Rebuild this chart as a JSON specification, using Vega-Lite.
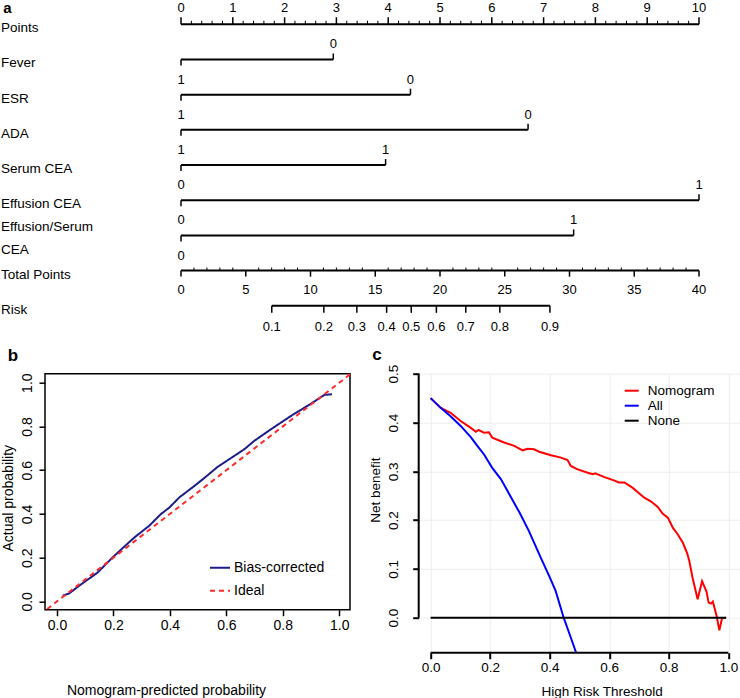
{
  "$schema": "https://vega.github.io/schema/vega-lite/v6.json",
  "background": "white",
  "padding": 0,
  "spacing": 32.7,
  "bounds": "flush",
  "resolve": {"scale": {"color": "independent", "strokeDash": "independent"}, "legend": {"color": "independent", "strokeDash": "independent"}},
  "config": {
    "font": "Liberation Sans",
    "view": {"stroke": null},
    "axis": {"labelColor": "black", "titleColor": "black", "tickColor": "black", "titleFontWeight": "normal", "labelFont": "Liberation Sans", "titleFont": "Liberation Sans"},
    "legend": {"labelColor": "black", "labelFont": "Liberation Sans"},
    "title": {"color": "black", "font": "Liberation Sans"}
  },
  "datasets": {
    "varlines": [
      {"var": "Points", "row": 0, "x0": 0, "x1": 10},
      {"var": "Fever", "row": 1, "x0": 0, "x1": 2.94},
      {"var": "ESR", "row": 2, "x0": 0, "x1": 4.43},
      {"var": "ADA", "row": 3, "x0": 0, "x1": 6.70},
      {"var": "Serum CEA", "row": 4, "x0": 0, "x1": 3.95},
      {"var": "Effusion CEA", "row": 5, "x0": 0, "x1": 10},
      {"var": "Effusion/Serum CEA", "row": 6, "x0": 0, "x1": 7.58}
    ],
    "levels": [
      {"row": 1, "x": 2.94, "lab": "0"},
      {"row": 2, "x": 0, "lab": "1"},
      {"row": 2, "x": 4.43, "lab": "0"},
      {"row": 3, "x": 0, "lab": "1"},
      {"row": 3, "x": 6.70, "lab": "0"},
      {"row": 4, "x": 0, "lab": "1"},
      {"row": 4, "x": 3.95, "lab": "1"},
      {"row": 5, "x": 0, "lab": "0"},
      {"row": 5, "x": 10, "lab": "1"},
      {"row": 6, "x": 0, "lab": "0"},
      {"row": 6, "x": 7.58, "lab": "1"}
    ],
    "names": [
      {"name": "Points", "row": 0},
      {"name": "Fever", "row": 1},
      {"name": "ESR", "row": 2},
      {"name": "ADA", "row": 3},
      {"name": "Serum CEA", "row": 4},
      {"name": "Effusion CEA", "row": 5},
      {"name": "Total Points", "row": 7},
      {"name": "Risk", "row": 8}
    ],
    "names2": [
      {"name": "Effusion/Serum\nCEA", "row": 6}
    ],
    "ptsMajor": [{"v": 0}, {"v": 1}, {"v": 2}, {"v": 3}, {"v": 4}, {"v": 5}, {"v": 6}, {"v": 7}, {"v": 8}, {"v": 9}, {"v": 10}],
    "ptsMinor": [
      {"v": 0.2}, {"v": 0.4}, {"v": 0.6}, {"v": 0.8}, {"v": 1.2}, {"v": 1.4}, {"v": 1.6}, {"v": 1.8},
      {"v": 2.2}, {"v": 2.4}, {"v": 2.6}, {"v": 2.8}, {"v": 3.2}, {"v": 3.4}, {"v": 3.6}, {"v": 3.8},
      {"v": 4.2}, {"v": 4.4}, {"v": 4.6}, {"v": 4.8}, {"v": 5.2}, {"v": 5.4}, {"v": 5.6}, {"v": 5.8},
      {"v": 6.2}, {"v": 6.4}, {"v": 6.6}, {"v": 6.8}, {"v": 7.2}, {"v": 7.4}, {"v": 7.6}, {"v": 7.8},
      {"v": 8.2}, {"v": 8.4}, {"v": 8.6}, {"v": 8.8}, {"v": 9.2}, {"v": 9.4}, {"v": 9.6}, {"v": 9.8}
    ],
    "tpLines": [
      {"row": 7, "x0": 0, "x1": 40},
      {"row": 8, "x0": 7.01, "x1": 28.49}
    ],
    "tpMajor": [{"v": 0}, {"v": 5}, {"v": 10}, {"v": 15}, {"v": 20}, {"v": 25}, {"v": 30}, {"v": 35}, {"v": 40}],
    "tpMinor": [
      {"v": 1}, {"v": 2}, {"v": 3}, {"v": 4}, {"v": 6}, {"v": 7}, {"v": 8}, {"v": 9},
      {"v": 11}, {"v": 12}, {"v": 13}, {"v": 14}, {"v": 16}, {"v": 17}, {"v": 18}, {"v": 19},
      {"v": 21}, {"v": 22}, {"v": 23}, {"v": 24}, {"v": 26}, {"v": 27}, {"v": 28}, {"v": 29},
      {"v": 31}, {"v": 32}, {"v": 33}, {"v": 34}, {"v": 36}, {"v": 37}, {"v": 38}, {"v": 39}
    ],
    "tpZero": [{"v": 0}],
    "risk": [
      {"p": "0.1", "tp": 7.01}, {"p": "0.2", "tp": 11.03}, {"p": "0.3", "tp": 13.58},
      {"p": "0.4", "tp": 15.88}, {"p": "0.5", "tp": 17.78}, {"p": "0.6", "tp": 19.72},
      {"p": "0.7", "tp": 21.99}, {"p": "0.8", "tp": 24.62}, {"p": "0.9", "tp": 28.49}
    ],
    "panelA": [{"p": "a"}],
    "panelB": [{"p": "b"}],
    "panelC": [{"p": "c"}],
    "calib": [
      {"series": "Bias-corrected", "pred": 0.020, "actual": 0.026},
      {"series": "Bias-corrected", "pred": 0.044, "actual": 0.037},
      {"series": "Bias-corrected", "pred": 0.079, "actual": 0.072},
      {"series": "Bias-corrected", "pred": 0.144, "actual": 0.132},
      {"series": "Bias-corrected", "pred": 0.197, "actual": 0.201},
      {"series": "Bias-corrected", "pred": 0.238, "actual": 0.250},
      {"series": "Bias-corrected", "pred": 0.274, "actual": 0.292},
      {"series": "Bias-corrected", "pred": 0.327, "actual": 0.346},
      {"series": "Bias-corrected", "pred": 0.368, "actual": 0.399},
      {"series": "Bias-corrected", "pred": 0.398, "actual": 0.429},
      {"series": "Bias-corrected", "pred": 0.433, "actual": 0.475},
      {"series": "Bias-corrected", "pred": 0.492, "actual": 0.533},
      {"series": "Bias-corrected", "pred": 0.534, "actual": 0.577},
      {"series": "Bias-corrected", "pred": 0.569, "actual": 0.615},
      {"series": "Bias-corrected", "pred": 0.628, "actual": 0.665},
      {"series": "Bias-corrected", "pred": 0.664, "actual": 0.696},
      {"series": "Bias-corrected", "pred": 0.699, "actual": 0.734},
      {"series": "Bias-corrected", "pred": 0.758, "actual": 0.787},
      {"series": "Bias-corrected", "pred": 0.829, "actual": 0.848},
      {"series": "Bias-corrected", "pred": 0.900, "actual": 0.904},
      {"series": "Bias-corrected", "pred": 0.947, "actual": 0.944},
      {"series": "Bias-corrected", "pred": 0.974, "actual": 0.947},
      {"series": "Ideal", "pred": -0.06, "actual": -0.06},
      {"series": "Ideal", "pred": 1.06, "actual": 1.06}
    ],
    "dca": [
      {"curve": "Nomogram", "t": 0.000, "nb": 0.450},
      {"curve": "Nomogram", "t": 0.034, "nb": 0.430},
      {"curve": "Nomogram", "t": 0.067, "nb": 0.420},
      {"curve": "Nomogram", "t": 0.101, "nb": 0.403},
      {"curve": "Nomogram", "t": 0.135, "nb": 0.389},
      {"curve": "Nomogram", "t": 0.152, "nb": 0.381},
      {"curve": "Nomogram", "t": 0.161, "nb": 0.385},
      {"curve": "Nomogram", "t": 0.179, "nb": 0.379},
      {"curve": "Nomogram", "t": 0.196, "nb": 0.380},
      {"curve": "Nomogram", "t": 0.207, "nb": 0.369},
      {"curve": "Nomogram", "t": 0.247, "nb": 0.359},
      {"curve": "Nomogram", "t": 0.281, "nb": 0.352},
      {"curve": "Nomogram", "t": 0.309, "nb": 0.343},
      {"curve": "Nomogram", "t": 0.326, "nb": 0.346},
      {"curve": "Nomogram", "t": 0.348, "nb": 0.345},
      {"curve": "Nomogram", "t": 0.365, "nb": 0.340},
      {"curve": "Nomogram", "t": 0.404, "nb": 0.333},
      {"curve": "Nomogram", "t": 0.438, "nb": 0.328},
      {"curve": "Nomogram", "t": 0.460, "nb": 0.323},
      {"curve": "Nomogram", "t": 0.471, "nb": 0.311},
      {"curve": "Nomogram", "t": 0.494, "nb": 0.304},
      {"curve": "Nomogram", "t": 0.528, "nb": 0.297},
      {"curve": "Nomogram", "t": 0.545, "nb": 0.294},
      {"curve": "Nomogram", "t": 0.553, "nb": 0.296},
      {"curve": "Nomogram", "t": 0.584, "nb": 0.288},
      {"curve": "Nomogram", "t": 0.618, "nb": 0.281},
      {"curve": "Nomogram", "t": 0.632, "nb": 0.277},
      {"curve": "Nomogram", "t": 0.651, "nb": 0.277},
      {"curve": "Nomogram", "t": 0.679, "nb": 0.266},
      {"curve": "Nomogram", "t": 0.702, "nb": 0.254},
      {"curve": "Nomogram", "t": 0.718, "nb": 0.246},
      {"curve": "Nomogram", "t": 0.741, "nb": 0.238},
      {"curve": "Nomogram", "t": 0.763, "nb": 0.227},
      {"curve": "Nomogram", "t": 0.780, "nb": 0.213},
      {"curve": "Nomogram", "t": 0.797, "nb": 0.205},
      {"curve": "Nomogram", "t": 0.814, "nb": 0.184},
      {"curve": "Nomogram", "t": 0.830, "nb": 0.171},
      {"curve": "Nomogram", "t": 0.847, "nb": 0.154},
      {"curve": "Nomogram", "t": 0.862, "nb": 0.132},
      {"curve": "Nomogram", "t": 0.869, "nb": 0.116},
      {"curve": "Nomogram", "t": 0.880, "nb": 0.082},
      {"curve": "Nomogram", "t": 0.897, "nb": 0.038},
      {"curve": "Nomogram", "t": 0.912, "nb": 0.075},
      {"curve": "Nomogram", "t": 0.927, "nb": 0.053},
      {"curve": "Nomogram", "t": 0.934, "nb": 0.031},
      {"curve": "Nomogram", "t": 0.942, "nb": 0.029},
      {"curve": "Nomogram", "t": 0.948, "nb": 0.033},
      {"curve": "Nomogram", "t": 0.961, "nb": 0.003},
      {"curve": "Nomogram", "t": 0.970, "nb": -0.026},
      {"curve": "Nomogram", "t": 0.979, "nb": -0.001},
      {"curve": "Nomogram", "t": 0.992, "nb": 0.000},
      {"curve": "All", "t": 0.000, "nb": 0.450},
      {"curve": "All", "t": 0.034, "nb": 0.430},
      {"curve": "All", "t": 0.067, "nb": 0.413},
      {"curve": "All", "t": 0.101, "nb": 0.393},
      {"curve": "All", "t": 0.135, "nb": 0.370},
      {"curve": "All", "t": 0.157, "nb": 0.352},
      {"curve": "All", "t": 0.179, "nb": 0.335},
      {"curve": "All", "t": 0.207, "nb": 0.307},
      {"curve": "All", "t": 0.236, "nb": 0.284},
      {"curve": "All", "t": 0.270, "nb": 0.247},
      {"curve": "All", "t": 0.300, "nb": 0.214},
      {"curve": "All", "t": 0.330, "nb": 0.178},
      {"curve": "All", "t": 0.370, "nb": 0.123},
      {"curve": "All", "t": 0.400, "nb": 0.083},
      {"curve": "All", "t": 0.420, "nb": 0.055},
      {"curve": "All", "t": 0.447, "nb": 0.000},
      {"curve": "All", "t": 0.470, "nb": -0.039},
      {"curve": "All", "t": 0.489, "nb": -0.072},
      {"curve": "None", "t": 0.000, "nb": 0.000},
      {"curve": "None", "t": 0.993, "nb": 0.000}
    ]
  },
  "vconcat": [
    {
      "width": 696,
      "height": 340,
      "resolve": {"scale": {"x": "independent"}},
      "layer": [
        {
          "layer": [
            {
              "data": {"name": "varlines"},
              "mark": {"type": "rule", "strokeWidth": 2, "color": "black"},
              "encoding": {
                "x": {"field": "x0", "type": "quantitative", "scale": {"domain": [-2.6255, 10.8108], "nice": false, "zero": false}, "axis": null},
                "x2": {"field": "x1"},
                "y": {"field": "row", "type": "quantitative", "scale": {"domain": [-0.662, 9.0], "reverse": true, "nice": false, "zero": false}, "axis": null}
              }
            },
            {
              "data": {"name": "ptsMajor"},
              "mark": {"type": "tick", "orient": "vertical", "size": 7, "thickness": 1.5, "yOffset": -3.5, "color": "black", "opacity": 1},
              "encoding": {
                "x": {"field": "v", "type": "quantitative", "scale": {"domain": [-2.6255, 10.8108], "nice": false, "zero": false}, "axis": null},
                "y": {"datum": 0, "type": "quantitative", "scale": {"domain": [-0.662, 9.0], "reverse": true, "nice": false, "zero": false}, "axis": null}
              }
            },
            {
              "data": {"name": "ptsMinor"},
              "mark": {"type": "tick", "orient": "vertical", "size": 3.5, "thickness": 1, "yOffset": -1.75, "color": "black", "opacity": 1},
              "encoding": {
                "x": {"field": "v", "type": "quantitative", "scale": {"domain": [-2.6255, 10.8108], "nice": false, "zero": false}, "axis": null},
                "y": {"datum": 0, "type": "quantitative", "scale": {"domain": [-0.662, 9.0], "reverse": true, "nice": false, "zero": false}, "axis": null}
              }
            },
            {
              "data": {"name": "ptsMajor"},
              "mark": {"type": "text", "dy": -16, "fontSize": 13, "color": "black"},
              "encoding": {
                "x": {"field": "v", "type": "quantitative", "scale": {"domain": [-2.6255, 10.8108], "nice": false, "zero": false}, "axis": null},
                "y": {"datum": 0, "type": "quantitative", "scale": {"domain": [-0.662, 9.0], "reverse": true, "nice": false, "zero": false}, "axis": null},
                "text": {"field": "v", "type": "quantitative"}
              }
            },
            {
              "data": {"name": "varlines"},
              "transform": [{"filter": "datum.row >= 1"}],
              "mark": {"type": "tick", "orient": "vertical", "size": 6, "thickness": 1.5, "yOffset": 3, "color": "black", "opacity": 1},
              "encoding": {
                "x": {"field": "x0", "type": "quantitative", "scale": {"domain": [-2.6255, 10.8108], "nice": false, "zero": false}, "axis": null},
                "y": {"field": "row", "type": "quantitative", "scale": {"domain": [-0.662, 9.0], "reverse": true, "nice": false, "zero": false}, "axis": null}
              }
            },
            {
              "data": {"name": "varlines"},
              "transform": [{"filter": "datum.row >= 1"}],
              "mark": {"type": "tick", "orient": "vertical", "size": 6, "thickness": 1.5, "yOffset": -3, "color": "black", "opacity": 1},
              "encoding": {
                "x": {"field": "x1", "type": "quantitative", "scale": {"domain": [-2.6255, 10.8108], "nice": false, "zero": false}, "axis": null},
                "y": {"field": "row", "type": "quantitative", "scale": {"domain": [-0.662, 9.0], "reverse": true, "nice": false, "zero": false}, "axis": null}
              }
            },
            {
              "data": {"name": "levels"},
              "mark": {"type": "text", "dy": -15, "fontSize": 13, "color": "black"},
              "encoding": {
                "x": {"field": "x", "type": "quantitative", "scale": {"domain": [-2.6255, 10.8108], "nice": false, "zero": false}, "axis": null},
                "y": {"field": "row", "type": "quantitative", "scale": {"domain": [-0.662, 9.0], "reverse": true, "nice": false, "zero": false}, "axis": null},
                "text": {"field": "lab", "type": "nominal"}
              }
            },
            {
              "data": {"name": "names"},
              "mark": {"type": "text", "align": "left", "baseline": "middle", "dy": 4, "fontSize": 13.5, "color": "black"},
              "encoding": {
                "x": {"datum": -3.4749, "type": "quantitative", "scale": {"domain": [-2.6255, 10.8108], "nice": false, "zero": false}, "axis": null},
                "y": {"field": "row", "type": "quantitative", "scale": {"domain": [-0.662, 9.0], "reverse": true, "nice": false, "zero": false}, "axis": null},
                "text": {"field": "name", "type": "nominal"}
              }
            },
            {
              "data": {"name": "names2"},
              "mark": {"type": "text", "align": "left", "baseline": "middle", "dy": -8, "fontSize": 13.5, "lineBreak": "\n", "lineHeight": 23, "color": "black"},
              "encoding": {
                "x": {"datum": -3.4749, "type": "quantitative", "scale": {"domain": [-2.6255, 10.8108], "nice": false, "zero": false}, "axis": null},
                "y": {"field": "row", "type": "quantitative", "scale": {"domain": [-0.662, 9.0], "reverse": true, "nice": false, "zero": false}, "axis": null},
                "text": {"field": "name", "type": "nominal"}
              }
            },
            {
              "data": {"name": "panelA"},
              "mark": {"type": "text", "align": "left", "baseline": "alphabetic", "fontSize": 15, "fontWeight": "bold", "color": "black"},
              "encoding": {
                "x": {"datum": -3.43, "type": "quantitative", "scale": {"domain": [-2.6255, 10.8108], "nice": false, "zero": false}, "axis": null},
                "y": {"datum": -0.33, "type": "quantitative", "scale": {"domain": [-0.662, 9.0], "reverse": true, "nice": false, "zero": false}, "axis": null},
                "text": {"field": "p", "type": "nominal"}
              }
            }
          ]
        },
        {
          "layer": [
            {
              "data": {"name": "tpLines"},
              "mark": {"type": "rule", "strokeWidth": 2, "color": "black"},
              "encoding": {
                "x": {"field": "x0", "type": "quantitative", "scale": {"domain": [-10.502, 43.2432], "nice": false, "zero": false}, "axis": null},
                "x2": {"field": "x1"},
                "y": {"field": "row", "type": "quantitative", "scale": {"domain": [-0.662, 9.0], "reverse": true, "nice": false, "zero": false}, "axis": null}
              }
            },
            {
              "data": {"name": "tpMajor"},
              "mark": {"type": "tick", "orient": "vertical", "size": 6, "thickness": 1.5, "yOffset": 3, "color": "black", "opacity": 1},
              "encoding": {
                "x": {"field": "v", "type": "quantitative", "scale": {"domain": [-10.502, 43.2432], "nice": false, "zero": false}, "axis": null},
                "y": {"datum": 7, "type": "quantitative", "scale": {"domain": [-0.662, 9.0], "reverse": true, "nice": false, "zero": false}, "axis": null}
              }
            },
            {
              "data": {"name": "tpMinor"},
              "mark": {"type": "tick", "orient": "vertical", "size": 3, "thickness": 1, "yOffset": -1.5, "color": "black", "opacity": 1},
              "encoding": {
                "x": {"field": "v", "type": "quantitative", "scale": {"domain": [-10.502, 43.2432], "nice": false, "zero": false}, "axis": null},
                "y": {"datum": 7, "type": "quantitative", "scale": {"domain": [-0.662, 9.0], "reverse": true, "nice": false, "zero": false}, "axis": null}
              }
            },
            {
              "data": {"name": "tpMajor"},
              "mark": {"type": "text", "dy": 19.5, "fontSize": 13, "color": "black"},
              "encoding": {
                "x": {"field": "v", "type": "quantitative", "scale": {"domain": [-10.502, 43.2432], "nice": false, "zero": false}, "axis": null},
                "y": {"datum": 7, "type": "quantitative", "scale": {"domain": [-0.662, 9.0], "reverse": true, "nice": false, "zero": false}, "axis": null},
                "text": {"field": "v", "type": "quantitative"}
              }
            },
            {
              "data": {"name": "tpZero"},
              "mark": {"type": "text", "dy": -14.5, "fontSize": 13, "color": "black"},
              "encoding": {
                "x": {"field": "v", "type": "quantitative", "scale": {"domain": [-10.502, 43.2432], "nice": false, "zero": false}, "axis": null},
                "y": {"datum": 7, "type": "quantitative", "scale": {"domain": [-0.662, 9.0], "reverse": true, "nice": false, "zero": false}, "axis": null},
                "text": {"field": "v", "type": "quantitative"}
              }
            },
            {
              "data": {"name": "risk"},
              "mark": {"type": "tick", "orient": "vertical", "size": 7, "thickness": 1.5, "yOffset": 3.5, "color": "black", "opacity": 1},
              "encoding": {
                "x": {"field": "tp", "type": "quantitative", "scale": {"domain": [-10.502, 43.2432], "nice": false, "zero": false}, "axis": null},
                "y": {"datum": 8, "type": "quantitative", "scale": {"domain": [-0.662, 9.0], "reverse": true, "nice": false, "zero": false}, "axis": null}
              }
            },
            {
              "data": {"name": "risk"},
              "mark": {"type": "text", "dy": 21, "fontSize": 13, "color": "black"},
              "encoding": {
                "x": {"field": "tp", "type": "quantitative", "scale": {"domain": [-10.502, 43.2432], "nice": false, "zero": false}, "axis": null},
                "y": {"datum": 8, "type": "quantitative", "scale": {"domain": [-0.662, 9.0], "reverse": true, "nice": false, "zero": false}, "axis": null},
                "text": {"field": "p", "type": "nominal"}
              }
            }
          ]
        }
      ]
    },
    {
      "spacing": 68.7,
      "bounds": "flush",
      "resolve": {"scale": {"color": "independent", "strokeDash": "independent"}, "legend": {"color": "independent", "strokeDash": "independent"}},
      "hconcat": [
        {
          "width": 305,
          "height": 236,
          "view": {"stroke": "black", "strokeWidth": 1.5},
          "layer": [
            {
              "data": {"name": "calib"},
              "mark": {"type": "line", "strokeWidth": 2, "clip": true},
              "encoding": {
                "x": {
                  "field": "pred", "type": "quantitative",
                  "scale": {"domain": [-0.0425, 1.038], "nice": false, "zero": false},
                  "axis": {"values": [0, 0.2, 0.4, 0.6, 0.8, 1.0], "format": ".1f", "domain": false, "grid": false, "tickSize": 6, "tickWidth": 1.5, "labelFontSize": 14, "labelPadding": 3, "title": "Nomogram-predicted probability", "titleFontSize": 14, "titleX": 121, "titleY": 81, "titleBaseline": "middle", "titleAlign": "center"}
                },
                "y": {
                  "field": "actual", "type": "quantitative",
                  "scale": {"domain": [-0.038, 1.041], "nice": false, "zero": false},
                  "axis": {"values": [0, 0.2, 0.4, 0.6, 0.8, 1.0], "format": ".1f", "domain": false, "grid": false, "tickSize": 6, "tickWidth": 1.5, "labelFontSize": 14, "labelAngle": -90, "labelAlign": "center", "labelBaseline": "middle", "labelPadding": 12, "title": "Actual probability", "titleFontSize": 14, "titleAngle": -90, "titleX": -37, "titleY": 124, "titleBaseline": "middle", "titleAlign": "center"}
                },
                "color": {
                  "field": "series", "type": "nominal",
                  "scale": {"domain": ["Bias-corrected", "Ideal"], "range": ["#1c1c8a", "#ff2a2a"]},
                  "legend": {"title": null, "orient": "none", "legendX": 164, "legendY": 183, "symbolType": "stroke", "symbolSize": 400, "symbolStrokeWidth": 2, "labelFontSize": 14, "labelOffset": 3, "rowPadding": 5}
                },
                "strokeDash": {
                  "field": "series", "type": "nominal",
                  "scale": {"domain": ["Bias-corrected", "Ideal"], "range": [[1, 0], [5, 4]]},
                  "legend": {"title": null, "orient": "none", "legendX": 164, "legendY": 183, "symbolType": "stroke", "symbolSize": 400, "symbolStrokeWidth": 2, "labelFontSize": 14, "labelOffset": 3, "rowPadding": 5}
                }
              }
            },
            {
              "data": {"name": "panelB"},
              "mark": {"type": "text", "align": "left", "baseline": "alphabetic", "fontSize": 17, "fontWeight": "bold", "color": "black"},
              "encoding": {
                "x": {"datum": -0.1746, "type": "quantitative"},
                "y": {"datum": 1.099, "type": "quantitative"},
                "text": {"field": "p", "type": "nominal"}
              }
            }
          ]
        },
        {
          "width": 321.5,
          "height": 279,
          "layer": [
            {
              "data": {"name": "dca"},
              "mark": {"type": "line", "strokeWidth": 2, "clip": true},
              "encoding": {
                "x": {
                  "field": "t", "type": "quantitative",
                  "scale": {"domain": [-0.04, 1.04], "nice": false, "zero": false},
                  "axis": {"values": [0, 0.2, 0.4, 0.6, 0.8, 1.0], "format": ".1f", "domain": false, "grid": true, "gridColor": "#ededed", "gridWidth": 1, "tickSize": 6, "tickWidth": 2, "labelFontSize": 13.5, "labelPadding": 2, "title": "High Risk Threshold", "titleFontSize": 13.5, "titleX": 183, "titleY": 39, "titleBaseline": "middle", "titleAlign": "center"}
                },
                "y": {
                  "field": "nb", "type": "quantitative",
                  "scale": {"domain": [-0.0717, 0.5], "nice": false, "zero": false},
                  "axis": {"values": [0, 0.1, 0.2, 0.3, 0.4, 0.5], "format": ".1f", "domain": false, "grid": true, "gridColor": "#ededed", "gridWidth": 1, "tickSize": 6, "tickWidth": 2, "labelFontSize": 13.5, "labelAngle": -90, "labelAlign": "center", "labelBaseline": "middle", "labelPadding": 19, "title": "Net benefit", "titleFontSize": 13.5, "titleAngle": -90, "titleX": -43, "titleY": 116, "titleBaseline": "middle", "titleAlign": "center"}
                },
                "color": {
                  "field": "curve", "type": "nominal",
                  "scale": {"domain": ["Nomogram", "All", "None"], "range": ["#ff0000", "#0000ff", "#000000"]},
                  "legend": {"title": null, "orient": "none", "legendX": 205, "legendY": 9, "symbolType": "stroke", "symbolSize": 196, "symbolStrokeWidth": 2, "labelFontSize": 13.5, "labelOffset": 8, "rowPadding": 0}
                }
              }
            },
            {
              "data": {"values": [{"k": 1}]},
              "mark": {"type": "rule", "strokeWidth": 2, "color": "black"},
              "encoding": {
                "x": {"datum": -0.04, "type": "quantitative"},
                "y": {"datum": 0, "type": "quantitative"},
                "y2": {"datum": 0.5}
              }
            },
            {
              "data": {"values": [{"k": 1}]},
              "mark": {"type": "rule", "strokeWidth": 2, "color": "black"},
              "encoding": {
                "x": {"datum": 0, "type": "quantitative"},
                "x2": {"datum": 1},
                "y": {"datum": -0.0717, "type": "quantitative"}
              }
            },
            {
              "data": {"name": "panelC"},
              "mark": {"type": "text", "align": "left", "baseline": "alphabetic", "fontSize": 17, "fontWeight": "bold", "color": "black"},
              "encoding": {
                "x": {"datum": -0.196, "type": "quantitative"},
                "y": {"datum": 0.5275, "type": "quantitative"},
                "text": {"field": "p", "type": "nominal"}
              }
            }
          ]
        }
      ]
    }
  ]
}
